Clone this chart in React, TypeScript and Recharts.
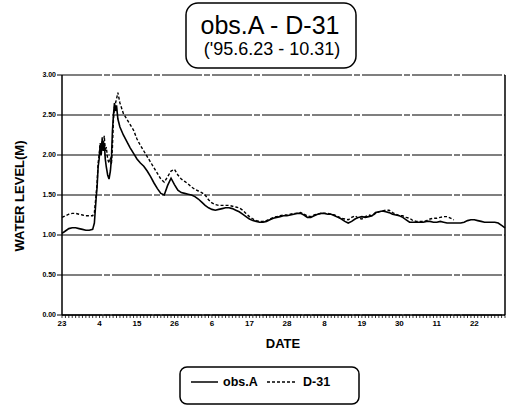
import React from "react";
import { LineChart, Line, XAxis, YAxis, CartesianGrid } from "recharts";

const days = [
  0, 1, 2, 3, 4, 5, 6, 7, 8, 9, 9.5, 10, 10.3, 10.6, 10.9, 11.2, 11.5, 11.8, 12.1, 12.4, 12.7, 13.0, 13.4, 13.8,
  14.2, 14.5, 14.8, 15.1, 15.4, 15.7, 16.0, 16.4, 17, 18, 19, 20, 21, 22, 23, 24, 25, 26, 27, 28, 29, 30, 31, 32,
  33, 34, 35, 36, 37, 38, 39, 40, 41, 42, 43, 44, 45, 46, 47, 48, 49, 50, 51, 52, 53, 54, 55, 56, 57, 58, 59, 60,
  61, 62, 63, 64, 65, 66, 67, 68, 69, 70, 71, 72, 73, 74, 75, 76, 77, 78, 79, 80, 81, 82, 83, 84, 85, 86, 87, 88,
  89, 90, 91, 92, 93, 94, 95, 96, 97, 98, 99, 100, 101, 102, 103, 104, 105, 106, 107, 108, 109, 110, 111, 112,
  113, 114, 115, 116, 117, 118, 119, 120, 121, 122, 123, 124, 125, 126, 127, 128, 129, 130,
];

const obsA = [
  1.02, 1.05, 1.08, 1.09, 1.09, 1.08, 1.07, 1.06, 1.06, 1.07, 1.15, 1.45, 1.6, 1.85, 1.95, 2.12, 2.0, 2.2, 2.05,
  2.15, 1.95, 1.85, 1.75, 1.7, 1.8, 1.95, 2.3, 2.5, 2.65, 2.55, 2.62, 2.45, 2.35, 2.25, 2.17, 2.09, 2.02, 1.95,
  1.9, 1.86, 1.8, 1.73, 1.65, 1.58, 1.52, 1.5, 1.62, 1.71, 1.63, 1.56, 1.53, 1.52, 1.51, 1.5, 1.48, 1.45, 1.41,
  1.37, 1.34, 1.32, 1.31, 1.32, 1.33, 1.34, 1.34, 1.33, 1.31, 1.29, 1.26, 1.23, 1.2, 1.18, 1.17, 1.16, 1.16,
  1.17, 1.19, 1.21, 1.22, 1.23, 1.24, 1.24, 1.25, 1.26, 1.27, 1.27, 1.25, 1.22, 1.22, 1.24, 1.26, 1.27, 1.27,
  1.26, 1.26, 1.24, 1.22, 1.2, 1.17, 1.15, 1.17, 1.2, 1.22, 1.23, 1.22, 1.23, 1.24, 1.28, 1.29, 1.3, 1.29, 1.28,
  1.26, 1.25, 1.24, 1.22, 1.19, 1.16, 1.16, 1.16, 1.16, 1.16, 1.17, 1.17, 1.16, 1.16, 1.17, 1.16, 1.15, 1.15,
  1.15, 1.15, 1.15, 1.16, 1.18, 1.19, 1.19, 1.18, 1.17, 1.16, 1.16, 1.16, 1.16, 1.15, 1.12, 1.09,
];

const d31: (number | null)[] = [
  1.22, 1.24, 1.26, 1.27, 1.27, 1.26, 1.25, 1.24, 1.24, 1.24, 1.28, 1.5, 1.65, 1.9, 2.0, 2.15, 2.05, 2.22, 2.1,
  2.24, 2.05, 2.1, 1.95, 1.9, 1.95, 1.88, 2.1, 2.45, 2.6, 2.65, 2.7, 2.78, 2.65, 2.52, 2.45, 2.38, 2.31, 2.2,
  2.12, 2.05, 1.98, 1.91, 1.84, 1.77, 1.7, 1.66, 1.73, 1.8, 1.82, 1.75, 1.7, 1.67, 1.64, 1.6, 1.57, 1.55, 1.53,
  1.5, 1.44, 1.4, 1.38, 1.37, 1.37, 1.37, 1.37, 1.36, 1.35, 1.34, 1.31, 1.27, 1.23, 1.2, 1.18, 1.17, 1.17, 1.18,
  1.2, 1.22, 1.23, 1.24, 1.25, 1.25, 1.26, 1.27, 1.27, 1.28, 1.26, 1.24, 1.23, 1.25, 1.26, 1.27, 1.27, 1.27,
  1.26, 1.25, 1.23, 1.21, 1.2, 1.19, 1.22, 1.24, 1.21, 1.2, 1.23, 1.25, 1.24, 1.27, 1.29, 1.3, 1.31, 1.31, 1.28,
  1.26, 1.24, 1.24, 1.22, 1.21, 1.18, 1.17, 1.17, 1.17, 1.18, 1.2, 1.21, 1.21, 1.22, 1.23, 1.23, 1.21, 1.19,
  null, null, null, null, null, null, null, null, null, null, null, null, null, null, null, null,
];

const dateLabels = ["23", "4", "15", "26", "6", "17", "28", "8", "19", "30", "11", "22"];
const yTicks = [0, 0.5, 1, 1.5, 2, 2.5, 3];

const data = days.map((d, i) => ({ day: d, obsA: obsA[i], d31: d31[i] }));
const dayTicks = Array.from({ length: 131 }, (_, i) => i);

const font = "'Liberation Sans', Arial, sans-serif";

export default function App() {
  return (
    <div style={{ position: "absolute", left: 0, top: 0, width: 511, height: 406, background: "#fff" }}>
      <LineChart
        width={511}
        height={406}
        data={data}
        margin={{ top: 75, right: 0, left: 0, bottom: 61 }}
      >
        <CartesianGrid
          horizontal={true}
          vertical={false}
          stroke="#000"
          strokeWidth={1.2}
          strokeDasharray="40 2 6 2"
          yAxisId="left"
        />
        <XAxis
          dataKey="day"
          type="number"
          domain={[0, 130]}
          ticks={dayTicks}
          interval={0}
          tickFormatter={(d: number) => (d % 11 === 0 ? dateLabels[d / 11] : "")}
          tick={{ fontSize: 8, fontWeight: 700, fill: "#000", fontFamily: font }}
          tickSize={3}
          tickMargin={2}
          height={30}
          axisLine={{ stroke: "#000", strokeWidth: 1.5 }}
          tickLine={{ stroke: "#000", strokeWidth: 0.8 }}
        />
        <YAxis
          yAxisId="left"
          domain={[0, 3]}
          ticks={yTicks}
          interval={0}
          width={62}
          tickFormatter={(v: number) => v.toFixed(2)}
          tick={{ fontSize: 7, fontWeight: 700, fill: "#000", fontFamily: font }}
          tickSize={5}
          tickMargin={1}
          axisLine={{ stroke: "#000", strokeWidth: 1.5 }}
          tickLine={{ stroke: "#000" }}
        />
        <YAxis
          yAxisId="right"
          orientation="right"
          domain={[0, 3]}
          width={6}
          tick={false}
          tickLine={false}
          axisLine={{ stroke: "#000", strokeWidth: 1.5 }}
        />
        <Line
          yAxisId="left"
          type="linear"
          dataKey="obsA"
          stroke="#000"
          strokeWidth={1.6}
          dot={false}
          isAnimationActive={false}
          connectNulls={false}
        />
        <Line
          yAxisId="left"
          type="linear"
          dataKey="d31"
          stroke="#000"
          strokeWidth={1.4}
          strokeDasharray="3 2"
          dot={false}
          isAnimationActive={false}
          connectNulls={false}
        />
      </LineChart>
      <svg
        width={511}
        height={406}
        style={{ position: "absolute", left: 0, top: 0, pointerEvents: "none" }}
        fontFamily={font}
      >
        <rect x={186} y={3} width={170} height={65} rx={12} ry={12} fill="none" stroke="#000" strokeWidth={1.5} />
        <text x={270} y={34} textAnchor="middle" fontSize={25} fill="#000">
          obs.A - D-31
        </text>
        <text x={272} y={55} textAnchor="middle" fontSize={18} fill="#000">
          ('95.6.23 - 10.31)
        </text>
        <text
          x={24}
          y={196}
          textAnchor="middle"
          fontSize={13}
          fontWeight={700}
          fill="#000"
          transform="rotate(-90 24 196)"
        >
          WATER LEVEL(M)
        </text>
        <text x={283} y={348} textAnchor="middle" fontSize={13} fontWeight={700} fill="#000">
          DATE
        </text>
        <rect x={180} y={367} width={179} height={37} rx={7} ry={7} fill="none" stroke="#000" strokeWidth={1.5} />
        <line x1={191} y1={382} x2={218} y2={382} stroke="#000" strokeWidth={1.5} />
        <text x={223} y={386} fontSize={12.5} fontWeight={700} fill="#000">
          obs.A
        </text>
        <line x1={267} y1={382} x2={295} y2={382} stroke="#000" strokeWidth={1.3} strokeDasharray="3 2" />
        <text x={303} y={386} fontSize={12.5} fontWeight={700} fill="#000">
          D-31
        </text>
      </svg>
    </div>
  );
}
